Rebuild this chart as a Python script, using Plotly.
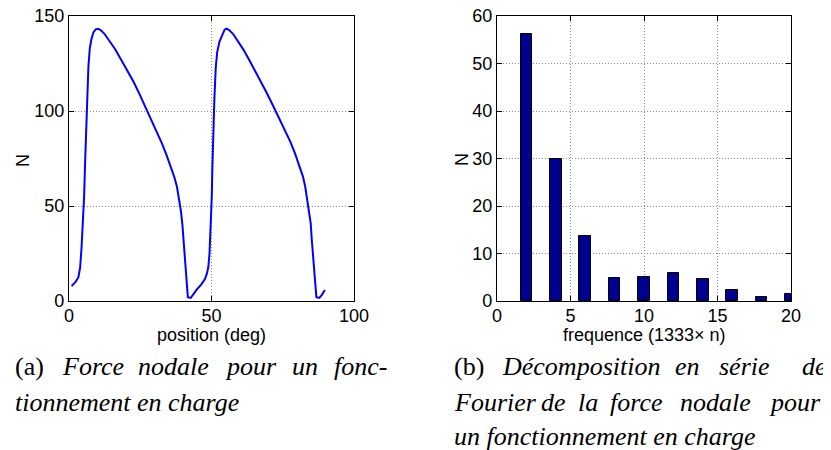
import plotly.graph_objects as go

# Left panel: nodal force vs position
position_deg = [0.9, 2.3, 3.3, 3.9, 4.4, 4.8, 5.3, 5.7, 6.0, 6.4, 6.8, 7.3, 7.9, 8.6, 9.4, 10.2,
                11.2, 12.5, 14.4, 16.2, 17.9, 20.2, 22.6, 24.7, 26.7, 28.8, 30.8, 32.6, 34.3,
                35.8, 37.0, 37.9, 38.6, 39.3, 39.8, 40.2, 40.7, 41.2, 41.7, 42.7, 43.6, 44.8,
                46.3, 47.7, 48.4, 48.9, 49.3, 49.6, 49.9, 50.1, 50.3, 50.6, 51.0, 51.5, 52.0,
                52.8, 53.9, 54.6, 55.3, 56.3, 57.6, 59.4, 61.2, 62.9, 65.0, 67.0, 69.4, 71.7,
                73.8, 75.8, 77.6, 79.3, 80.9, 82.1, 82.9, 83.6, 84.3, 84.8, 85.2, 85.7, 86.3,
                86.8, 87.8, 88.6, 89.8]
force_N = [7.8, 10.0, 12.5, 17.5, 28, 40, 55, 75, 90, 108, 123, 133, 138, 141.5, 143, 143.3,
           142.5, 140.5, 136.5, 132.5, 128, 122, 115.5, 109, 102.5, 96, 89.5, 83, 76.5,
           70.5, 65, 60, 54, 47, 40, 32, 22, 12, 2.0, 1.6, 3.8, 6.0,
           8.5, 11.5, 14.5, 18, 25, 34, 45, 55, 70, 88, 106, 123, 131,
           136.5, 141, 142.8, 143.3, 142.5, 140.5, 136.5, 132.3, 127.8, 122, 116.3, 109.5, 102.5,
           96, 90, 84, 77.7, 71, 65.5, 60, 53.5, 47, 41, 32, 22, 12,
           2.0, 1.6, 3.0, 5.8]

# Right panel: Fourier decomposition
harmonic_n = [2, 4, 6, 8, 10, 12, 14, 16, 18, 20]
amplitude_N = [56.3, 29.9, 13.7, 4.8, 5.1, 5.8, 4.6, 2.4, 0.9, 1.4]

left_ticks_x = [0, 50, 100]
left_ticks_y = [0, 50, 100, 150]
right_ticks_x = [0, 5, 10, 15, 20]
right_ticks_y = [0, 10, 20, 30, 40, 50, 60]

# Caption words: (text, italic)
caption_a_line1 = [("(a)", False), ("Force", True), ("nodale", True), ("pour", True), ("un", True), ("fonc-", True)]
caption_a_line2 = "tionnement en charge"
caption_b_line1 = [("(b)", False), ("Décomposition", True), ("en", True), ("série", True), ("de", True)]
caption_b_line2 = [("Fourier", True), ("de", True), ("la", True), ("force", True), ("nodale", True), ("pour", True)]
caption_b_line3 = "un fonctionnement en charge"

# The page body has an 8px margin, so the figure is offset by 8px in the window
OFF = 8
W, H = 831 - OFF, 450 - OFF
tick_font = dict(family="Liberation Sans, Arial, sans-serif", size=18, color="black")
title_font = dict(family="Liberation Sans, Arial, sans-serif", size=18, color="black")
cap_font = dict(family="Liberation Serif, serif", size=26, color="black")

fig = go.Figure()
fig.add_trace(go.Scatter(x=position_deg, y=force_N, mode="lines",
                         line=dict(color="#0000FF", width=2), xaxis="x", yaxis="y",
                         showlegend=False, hoverinfo="skip"))
fig.add_trace(go.Bar(x=harmonic_n, y=amplitude_N, width=0.8,
                     marker=dict(color="#00008F", line=dict(color="black", width=1)),
                     xaxis="x2", yaxis="y2", showlegend=False, hoverinfo="skip"))


def px_x(p):
    return (p - OFF) / W


def px_y(p):
    return 1 - (p - OFF) / H


common = dict(showline=True, linecolor="black", linewidth=1.3, mirror="ticks",
              ticks="inside", ticklen=5, tickcolor="black", tickwidth=1,
              showgrid=True, gridcolor="#8c8c8c", griddash="1px,2px", gridwidth=1,
              zeroline=False, tickfont=tick_font, automargin=False,
              ticklabeloverflow="allow")

fig.update_layout(
    width=W, height=H, margin=dict(l=0, r=0, t=0, b=0, autoexpand=False),
    paper_bgcolor="white", plot_bgcolor="white",
    xaxis=dict(domain=[px_x(69), px_x(354)], range=[0, 100], tickvals=left_ticks_x,
               anchor="y", ticklabelstandoff=-2, **common),
    yaxis=dict(domain=[px_y(301), px_y(16)], range=[0, 150], tickvals=left_ticks_y,
               anchor="x", **common),
    xaxis2=dict(domain=[px_x(497), px_x(791)], range=[0, 20], tickvals=right_ticks_x,
                anchor="y2", ticklabelstandoff=-2, **common),
    yaxis2=dict(domain=[px_y(301), px_y(16)], range=[0, 60], tickvals=right_ticks_y,
                anchor="x2", **common),
    bargap=0,
)

annots = [
    dict(text="position (deg)", x=px_x(211), y=px_y(335), font=title_font),
    dict(text="frequence (1333× n)", x=px_x(644), y=px_y(335), font=title_font),
    dict(text="N", x=px_x(23), y=px_y(160), textangle=-90, font=title_font),
    dict(text="N", x=px_x(462), y=px_y(160), textangle=-90, font=title_font),
]
for a in annots:
    fig.add_annotation(xref="paper", yref="paper", showarrow=False,
                       xanchor="center", yanchor="middle", **a)

# justified lines: word start positions (pixels)
justified = [
    (caption_a_line1, [13, 60, 136, 223, 290, 332], 366),
    (caption_b_line1, [452, 500, 673, 717, 800], 366),
    (caption_b_line2, [452, 539, 576, 608, 678, 767], 402),
]
for words, xs, y in justified:
    for (w, ital), x in zip(words, xs):
        fig.add_annotation(xref="paper", yref="paper", showarrow=False,
                           text=f"<i>{w}</i>" if ital else w,
                           x=px_x(x), y=px_y(y), xanchor="left", yanchor="middle",
                           font=cap_font)

# last lines of each caption (natural spacing)
for txt, x, y in [(caption_a_line2, 13, 402), (caption_b_line3, 452, 436)]:
    fig.add_annotation(xref="paper", yref="paper", showarrow=False,
                       text=f"<i>{txt}</i>", x=px_x(x), y=px_y(y),
                       xanchor="left", yanchor="middle", font=cap_font)

fig.write_html("out.html")
